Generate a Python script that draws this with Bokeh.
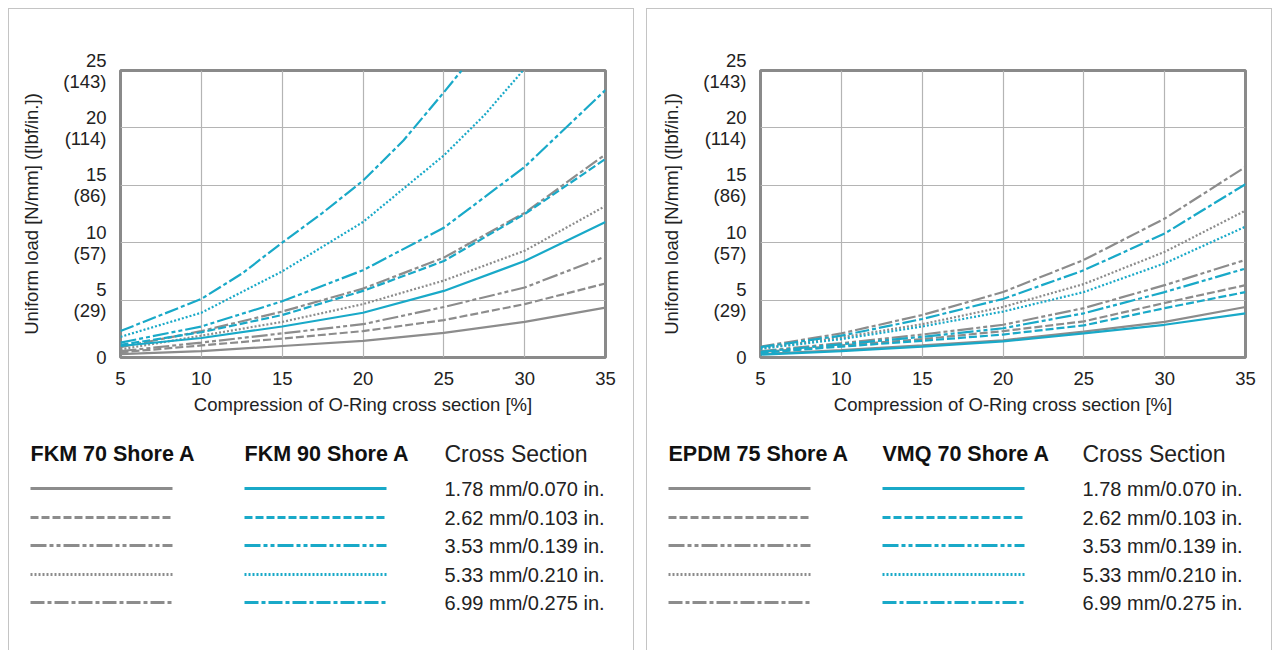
from bokeh.plotting import figure
from bokeh.layouts import column, row
from bokeh.models import Range1d
from bokeh.embed import file_html
from bokeh.resources import INLINE
from bokeh.core.properties import value

# ---------------- data ----------------
x_ticks = [5, 10, 15, 20, 25, 30, 35]
y_ticks = [0, 5, 10, 15, 20, 25]
y_tick_labels = ["0", "5\n(29)", "10\n(57)", "15\n(86)", "20\n(114)", "25\n(143)"]
x_title = "Compression of O-Ring cross section [%]"
y_title = "Uniform load [N/mm] ([lbf/in.])"
cross_sections = ["1.78 mm/0.070 in.", "2.62 mm/0.103 in.", "3.53 mm/0.139 in.",
                  "5.33 mm/0.210 in.", "6.99 mm/0.275 in."]
compression = [5, 10, 15, 20, 25, 30, 35]

# FKM 70 Shore A (gray)
fkm70_178 = [0.3, 0.55, 1.0, 1.45, 2.15, 3.1, 4.35]
fkm70_262 = [0.45, 1.05, 1.65, 2.3, 3.26, 4.65, 6.45]
fkm70_353 = [0.55, 1.3, 2.1, 2.9, 4.4, 6.1, 8.8]
fkm70_533 = [0.7, 1.9, 3.1, 4.65, 6.7, 9.3, 13.2]
fkm70_699 = [0.9, 2.3, 4.0, 6.0, 8.7, 12.6, 17.7]

# FKM 90 Shore A (teal)
fkm90_178 = [1.0, 1.7, 2.7, 3.9, 5.8, 8.4, 11.8]
fkm90_262 = [1.1, 2.2, 3.7, 5.8, 8.4, 12.5, 17.3]
fkm90_353 = [1.3, 2.7, 4.9, 7.6, 11.3, 16.6, 23.3]
fkm90_533_x = [5, 10, 15, 20, 25, 27.5, 29.9]
fkm90_533 = [1.8, 3.9, 7.5, 11.8, 17.6, 21.1, 25.0]
fkm90_699_x = [5, 7.5, 10, 12.5, 15, 17.5, 20, 22.5, 25, 26.1]
fkm90_699 = [2.3, 3.7, 5.1, 7.3, 10.0, 12.6, 15.4, 18.9, 23.1, 25.0]

# EPDM 75 Shore A (gray)
epdm75_178 = [0.3, 0.65, 1.05, 1.5, 2.25, 3.1, 4.4]
epdm75_262 = [0.45, 1.05, 1.6, 2.3, 3.15, 4.75, 6.3]
epdm75_353 = [0.55, 1.25, 2.0, 2.85, 4.3, 6.3, 8.5]
epdm75_533 = [0.8, 1.75, 2.9, 4.4, 6.4, 9.2, 12.8]
epdm75_699 = [0.95, 2.1, 3.7, 5.7, 8.5, 12.1, 16.6]

# VMQ 70 Shore A (teal)
vmq70_178 = [0.25, 0.55, 0.95, 1.4, 2.1, 2.85, 3.85]
vmq70_262 = [0.4, 0.95, 1.45, 2.0, 2.8, 4.3, 5.7]
vmq70_353 = [0.5, 1.15, 1.8, 2.55, 3.85, 5.7, 7.75]
vmq70_533 = [0.75, 1.6, 2.7, 4.0, 5.7, 8.2, 11.4]
vmq70_699 = [0.9, 1.9, 3.35, 5.1, 7.6, 10.8, 15.1]

# ---------------- styles ----------------
GRAY = "#8c8c8c"
TEAL = "#19a9c8"
DASHES = ["solid", "8 3", "16 3 4 3 4 3", "2 2", "14 3 4 3"]
FONT = "Liberation Sans"
PANEL_W = 624
CHART_H = 420
LEG_H = 221


def make_panel(name_a, name_b, series_a, series_b, left_border):
    p = figure(width=PANEL_W, height=CHART_H, x_range=Range1d(5, 35), y_range=Range1d(0, 25),
               output_backend="svg", toolbar_location=None,
               min_border_left=left_border, min_border_right=PANEL_W - left_border - 485,
               min_border_top=61, min_border_bottom=72)
    p.frame_align = False
    p.xaxis.ticker = x_ticks
    p.yaxis.ticker = y_ticks
    p.yaxis.major_label_overrides = {t: l for t, l in zip(y_ticks, y_tick_labels)}
    p.xgrid.ticker = x_ticks
    p.ygrid.ticker = y_ticks
    p.grid.grid_line_color = "#b4b4b4"
    p.grid.grid_line_width = 1.2
    p.outline_line_color = "#8a8a8a"
    p.outline_line_width = 3
    p.axis.axis_line_color = None
    p.axis.major_tick_line_color = None
    p.axis.minor_tick_line_color = None
    p.axis.major_label_text_font = FONT
    p.axis.major_label_text_font_size = "18.5px"
    p.axis.major_label_text_color = "#222222"
    p.yaxis.major_label_text_line_height = 1.0
    p.yaxis.major_label_text_align = "right"
    p.axis.axis_label_text_font = FONT
    p.axis.axis_label_text_font_size = "18.5px"
    p.axis.axis_label_text_font_style = "normal"
    p.axis.axis_label_text_color = "#222222"
    p.xaxis.axis_label = x_title
    p.yaxis.axis_label = y_title
    p.xaxis.major_label_standoff = 8
    p.xaxis.axis_label_standoff = 6
    p.yaxis.major_label_standoff = 8
    p.yaxis.axis_label_standoff = 18

    for (xs, ys), dash in zip(series_a, DASHES):
        p.line(xs, ys, line_color=GRAY, line_width=2.2, line_dash=dash)
    for (xs, ys), dash in zip(series_b, DASHES):
        p.line(xs, ys, line_color=TEAL, line_width=2.2, line_dash=dash)

    lg = figure(width=PANEL_W, height=LEG_H, x_range=Range1d(0, PANEL_W), y_range=Range1d(LEG_H, 0),
                output_backend="svg", toolbar_location=None, min_border=0,
                x_axis_type=None, y_axis_type=None)
    lg.frame_align = False
    lg.grid.visible = False
    lg.outline_line_color = None

    col_a, col_b, col_c = 21, 235, 435
    line_len = 142
    head_y = 24
    rows_y = [59, 88, 116, 145, 173]

    for cx, name in ((col_a, name_a), (col_b, name_b)):
        lg.text(x=[cx], y=[head_y], text=[name], text_font=value(FONT), text_font_style="bold",
                text_font_size="21.5px", text_baseline="middle", text_align="left",
                text_color="#111111")
    lg.text(x=[col_c], y=[head_y], text=["Cross Section"], text_font=value(FONT),
            text_font_size="23px", text_baseline="middle", text_align="left", text_color="#222222")
    for ry, dash, label in zip(rows_y, DASHES, cross_sections):
        lg.line([col_a, col_a + line_len], [ry, ry], line_color=GRAY, line_width=3, line_dash=dash)
        lg.line([col_b, col_b + line_len], [ry, ry], line_color=TEAL, line_width=3, line_dash=dash)
        lg.text(x=[col_c], y=[ry], text=[label], text_font=value(FONT), text_font_size="20px",
                text_baseline="middle", text_align="left", text_color="#222222")

    return column(p, lg, styles={"border": "1px solid #c4c4c4", "border-bottom": "none"})


left = make_panel(
    "FKM 70 Shore A", "FKM 90 Shore A",
    [(compression, fkm70_178), (compression, fkm70_262), (compression, fkm70_353),
     (compression, fkm70_533), (compression, fkm70_699)],
    [(compression, fkm90_178), (compression, fkm90_262), (compression, fkm90_353),
     (fkm90_533_x, fkm90_533), (fkm90_699_x, fkm90_699)],
    111)

right = make_panel(
    "EPDM 75 Shore A", "VMQ 70 Shore A",
    [(compression, epdm75_178), (compression, epdm75_262), (compression, epdm75_353),
     (compression, epdm75_533), (compression, epdm75_699)],
    [(compression, vmq70_178), (compression, vmq70_262), (compression, vmq70_353),
     (compression, vmq70_533), (compression, vmq70_699)],
    113)

layout = row(left, right, spacing=12, styles={"margin-left": "8px", "margin-top": "8px"})

open("out.html", "w").write(file_html(layout, INLINE))
